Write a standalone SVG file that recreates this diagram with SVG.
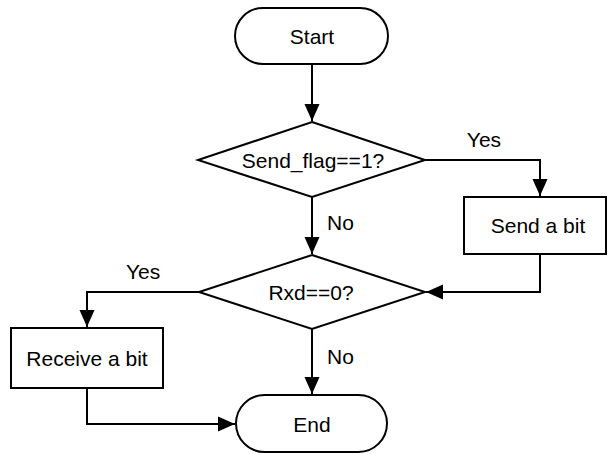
<svg xmlns="http://www.w3.org/2000/svg" width="608" height="454" viewBox="0 0 608 454">
<defs>
<style>
.s{fill:#fff;stroke:#000;stroke-width:2}
.c{fill:none;stroke:#000;stroke-width:2}
text{font-family:"Liberation Sans",Arial,sans-serif;font-size:21px;fill:#000}
.m{text-anchor:middle}
</style>
<marker id="a" markerUnits="userSpaceOnUse" markerWidth="18" markerHeight="16" viewBox="0 0 18 16" refX="17" refY="8" orient="auto">
<path d="M0,0.5 L17,8 L0,15.5 Z" fill="#000"/>
</marker>
</defs>
<g id="connectors">
<path class="c" d="M312,64 V121" marker-end="url(#a)"/>
<path class="c" d="M425,160 H540 V196" marker-end="url(#a)"/>
<path class="c" d="M540,254 V292 H426" marker-end="url(#a)"/>
<path class="c" d="M312,197 V254" marker-end="url(#a)"/>
<path class="c" d="M199,292 H87 V327" marker-end="url(#a)"/>
<path class="c" d="M312,329 V394" marker-end="url(#a)"/>
<path class="c" d="M87,388 V424 H235" marker-end="url(#a)"/>
<text x="484" y="147" class="m">Yes</text>
<text x="327" y="230">No</text>
<text x="126" y="279">Yes</text>
<text x="327" y="364">No</text>
</g>
<g id="start">
<rect class="s" x="235" y="8" width="153" height="56" rx="28"/>
<text x="312" y="43.5" class="m">Start</text>
</g>
<g id="send_flag">
<polygon class="s" points="312,122 425,160 312,197 198,160"/>
<text x="313" y="167.5" class="m">Send_flag==1?</text>
</g>
<g id="send_bit">
<rect class="s" x="464" y="197" width="142" height="57"/>
<text x="538" y="233" class="m">Send a bit</text>
</g>
<g id="rxd">
<polygon class="s" points="312,255 425,292 312,329 199,292"/>
<text x="311" y="299.5" class="m">Rxd==0?</text>
</g>
<g id="receive_bit">
<rect class="s" x="11" y="328" width="152" height="60"/>
<text x="87" y="365.5" class="m">Receive a bit</text>
</g>
<g id="end">
<rect class="s" x="236" y="395" width="151" height="57" rx="28.5"/>
<text x="312" y="431.5" class="m">End</text>
</g>
</svg>
